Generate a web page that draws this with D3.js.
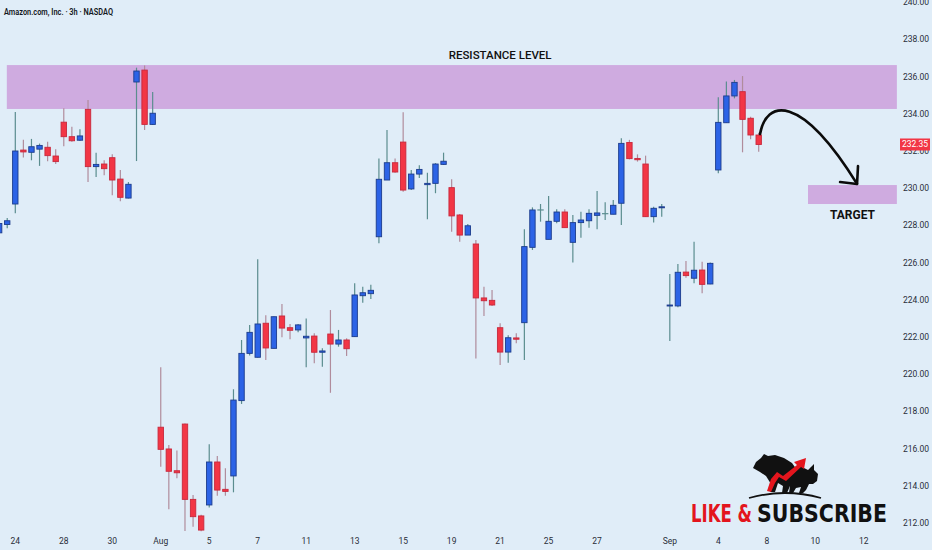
<!DOCTYPE html>
<html><head><meta charset="utf-8">
<script src="https://cdn.jsdelivr.net/npm/d3@7"></script>
<style>html,body{margin:0;padding:0;background:#e0edf8;}svg{display:block}</style>
</head><body><svg id="c" width="932" height="550"></svg>
<script>
// ---- data (3h bars, first bar index = -2) ----
const firstIndex = -2;
const opens  = [227.6,228.05,229.15,232.05,231.93,232.1,232.2,231.73,233.55,232.77,232.58,234.24,231.16,231.3,231.64,230.49,229.47,235.71,236.35,233.43,217.15,215.98,214.81,217.32,213.27,212.38,212.97,215.28,213.81,214.53,218.58,221.12,220.91,222.74,221.39,223.13,222.5,222.38,221.95,222.05,221.18,222.16,221.62,221.84,222.02,224.22,224.33,227.39,230.44,231.37,232.48,229.96,230.76,230.19,230.26,231.28,230.03,228.56,227.48,227.0,224.1,223.97,222.5,221.19,221.95,222.77,226.82,228.83,227.25,228.22,228.72,227.09,228.15,228.25,228.54,228.63,228.6,229.19,232.46,231.6,231.3,228.47,228.95,223.68,223.67,225.49,225.16,225.6,224.85,230.98,233.52,234.96,235.19,233.76,232.86];
const highs  = [228.2,228.4,234.1,232.6,232.65,232.4,232.5,232.1,234.3,233.3,233.17,234.74,231.9,231.5,231.82,230.98,230.33,236.48,236.6,235.17,220.37,216.2,215.9,217.35,213.5,212.45,216.23,215.6,214.94,219.19,221.84,222.65,226.18,223.17,223.1,223.77,222.7,222.7,223.0,222.2,221.39,223.45,222.38,221.93,224.89,224.7,224.81,231.6,233.13,231.6,234.08,230.98,231.23,230.83,231.35,231.91,230.48,228.61,228.07,227.21,224.7,224.53,222.74,222.1,222.2,227.79,228.97,229.15,229.58,228.87,228.87,228.56,228.74,228.87,229.85,229.24,229.37,232.68,232.6,231.82,231.75,229.0,229.15,225.39,225.92,226.09,227.12,226.05,226.0,234.89,235.73,235.82,236.03,233.84,232.98];
const lows   = [227.5,227.85,228.65,231.65,231.5,231.2,231.45,231.3,232.25,232.5,232.54,230.33,230.6,230.7,229.62,229.3,229.45,231.46,233.13,233.4,215.03,212.74,214.4,211.57,211.8,211.55,212.84,213.47,213.47,213.65,218.4,221.0,220.9,220.76,221.38,221.98,221.88,222.25,220.37,220.59,220.4,219.0,221.48,220.98,222.0,223.84,224.04,227.04,230.44,230.83,229.81,229.9,230.55,228.33,229.73,231.25,227.66,227.12,227.48,220.85,223.13,223.67,220.49,220.62,221.66,220.76,226.68,228.2,227.25,228.11,227.88,226.0,227.34,227.88,227.79,228.29,228.6,228.02,231.55,231.43,228.45,228.15,228.47,221.78,223.6,225.19,224.89,224.35,224.83,230.8,233.5,234.83,231.93,232.63,231.96];
const closes = [228.1,228.25,232.0,231.95,232.23,232.3,231.75,231.43,232.77,232.55,232.81,231.16,231.28,231.05,230.44,229.51,230.21,236.3,233.43,234.03,215.96,214.78,214.7,213.27,212.34,211.62,215.28,213.77,213.7,218.61,221.12,222.25,222.7,221.41,223.09,222.48,222.36,222.65,222.04,221.18,221.25,221.62,221.84,221.37,224.26,224.38,224.51,230.48,231.37,230.87,229.9,230.76,231.01,230.26,231.3,231.45,228.51,227.48,227.98,224.1,223.95,223.72,221.19,221.96,221.88,226.86,228.83,228.83,228.22,228.72,227.88,228.15,228.29,228.65,228.67,228.63,229.08,232.41,231.59,231.53,228.47,228.92,229.0,223.72,225.48,225.3,225.59,224.83,225.96,233.54,234.96,235.69,233.7,232.86,232.35];

const xTickIdx    = [0,6,12,18,24,30,36,42,48,54,60,66,72,81,87,93,99,105];
const xTickLabels = ["24","28","30","Aug","5","7","11","13","15","19","21","25","27","Sep","4","8","10","12"];
const yTicks = [212,214,216,218,220,222,224,226,228,230,232,234,236,238,240];

const titleText = "Amazon.com, Inc. · 3h · NASDAQ";
const lastPrice = 232.35;
const resistanceZone = {i0:-1.05, i1:109.1, p0:234.26, p1:236.62, label:"RESISTANCE LEVEL"};
const targetZone     = {i0:98.1,  i1:109.1, p0:229.15, p1:230.17, label:"TARGET"};
const arrowCurve = [[92.17,232.91],[92.91,234.74],[97.12,235.17],[104.17,230.23]];
const arrowHead  = [[102.07,230.33],[104.17,230.23],[104.29,231.19]];
const logoWords = ["LIKE &","SUBSCRIBE"];

// ---- scales ----
const x = d3.scaleLinear().domain([0,92]).range([15.3,758.7]);
const y = d3.scaleLinear().domain([212,240]).range([523,2.2]);

const svg = d3.select("#c");
const FONT = "Roboto, 'Liberation Sans', sans-serif";
svg.append("rect").attr("width",932).attr("height",550).attr("fill","#e0edf8");

// zones
const zones = [resistanceZone, targetZone];
svg.selectAll("rect.zone").data(zones).join("rect").attr("class","zone")
  .attr("x",d=>x(d.i0)).attr("width",d=>x(d.i1)-x(d.i0))
  .attr("y",d=>y(d.p1)).attr("height",d=>y(d.p0)-y(d.p1))
  .attr("fill","#cfabe0");

// candles
const bars = opens.map((o,k)=>({i:k+firstIndex,o,h:highs[k],l:lows[k],c:closes[k]}));
const g = svg.append("g");
const up = d=>d.c>=d.o;
const doji = d=>Math.abs(d.c-d.o)<0.005;
g.selectAll("line.wick").data(bars).join("line")
  .attr("x1",d=>x(d.i)).attr("x2",d=>x(d.i))
  .attr("y1",d=>y(d.h)).attr("y2",d=>y(d.l))
  .attr("stroke",d=>up(d)?"#5b8d8f":"#b08c9c").attr("stroke-width",1.2);
const bw = 5.4;
g.selectAll("rect.body").data(bars.filter(d=>!doji(d))).join("rect")
  .attr("x",d=>x(d.i)-bw/2).attr("width",bw)
  .attr("y",d=>y(Math.max(d.o,d.c)))
  .attr("height",d=>Math.max(1,Math.abs(y(d.o)-y(d.c))))
  .attr("fill",d=>up(d)?"#2c63e6":"#f23645")
  .attr("stroke",d=>up(d)?"#1c3c8c":"#c8283c").attr("stroke-width",0.9);
g.selectAll("line.doji").data(bars.filter(doji)).join("line")
  .attr("x1",d=>x(d.i)-bw/2-0.5).attr("x2",d=>x(d.i)+bw/2+0.5)
  .attr("y1",d=>y(d.o)).attr("y2",d=>y(d.o))
  .attr("stroke","#5b8d8f").attr("stroke-width",1.2);

// annotations
svg.append("text").attr("x",x(60)).attr("y",y(resistanceZone.p1)-6)
  .attr("text-anchor","middle").attr("font-family",FONT).attr("font-size",11.5)
  .attr("font-weight",500).attr("fill","#111").text(resistanceZone.label);
svg.append("text").attr("x",(x(targetZone.i0)+x(targetZone.i1))/2).attr("y",y(targetZone.p0)+15)
  .attr("text-anchor","middle").attr("font-family",FONT).attr("font-size",12)
  .attr("font-weight",700).attr("fill","#111").text(targetZone.label);

const c = arrowCurve.map(p=>[x(p[0]),y(p[1])]);
svg.append("path").attr("d",`M${c[0]}C${c[1]} ${c[2]} ${c[3]}`)
  .attr("fill","none").attr("stroke","#0b0b0b").attr("stroke-width",2.6).attr("stroke-linecap","round");
svg.append("path").attr("d",d3.line()(arrowHead.map(p=>[x(p[0]),y(p[1])])))
  .attr("fill","none").attr("stroke","#0b0b0b").attr("stroke-width",2.6)
  .attr("stroke-linecap","round").attr("stroke-linejoin","round");

// LIKE & SUBSCRIBE logo
const logo = svg.append("g");
logo.append("path").attr("fill","#111")
  .attr("d","M753,468 L756,462 L761,458 L764,454 L768,456 L775,455 L784,458 L792,463 L797,470 L795,480 L790,486 L787,493 L782,493 L783,486 L778,483 L775,492 L770,492 L771,484 L766,476 L760,472 Z");
logo.append("path").attr("fill","#111")
  .attr("d","M789,469 L800,466 L808,470 L811,467 L814,464 L814,470 L818,474 L817,481 L813,484 L809,484 L806,490 L803,493 L799,493 L801,487 L796,488 L793,493 L789,493 L790,486 Z");
logo.append("path").attr("fill","#e3151d")
  .attr("d","M767,491 L771,479 L777,472 L783,476 L797,465 L794,462 L806,458 L804,469 L801,467 L786,481 L779,477 L775,483 L771,492 Z");
logo.append("path").attr("fill","none").attr("stroke","#111").attr("stroke-width",1.8)
  .attr("d","M749,498 Q785,488 821,498");
function fitWord(word, x0, width, fill){
  const gg = logo.append("g");
  const t = gg.append("text").attr("x",0).attr("y",0)
    .attr("font-family","'DejaVu Sans', sans-serif").attr("font-size",25).attr("font-weight",900)
    .attr("fill",fill).text(word);
  const w = t.node().getComputedTextLength();
  gg.attr("transform",`translate(${x0},522) scale(${width/w},1)`);
}
fitWord(logoWords[0], 691, 61, "#e3151d");
fitWord(logoWords[1], 757, 130, "#111");

// y axis labels (right)
svg.append("g").selectAll("text").data(yTicks).join("text")
  .attr("x",903).attr("y",d=>y(d)).attr("dy","0.35em")
  .attr("font-family",FONT).attr("font-size",8.5).attr("fill","#2a2e39")
  .text(d=>d3.format(".2f")(d));
// last price label
svg.append("rect").attr("x",900).attr("y",y(lastPrice)-6).attr("width",30).attr("height",12).attr("fill","#f23645");
svg.append("text").attr("x",915).attr("y",y(lastPrice)).attr("dy","0.35em").attr("text-anchor","middle")
  .attr("font-family",FONT).attr("font-size",8.5).attr("fill","#fff").text(d3.format(".2f")(lastPrice));

// x axis labels
svg.append("g").selectAll("text").data(xTickIdx).join("text")
  .attr("x",d=>x(d)).attr("y",541).attr("dy","0.35em").attr("text-anchor","middle")
  .attr("font-family",FONT).attr("font-size",8.5).attr("fill","#2a2e39")
  .text((d,k)=>xTickLabels[k]);

// title
svg.append("text").attr("x",4).attr("y",12).attr("dy","0.35em")
  .attr("font-family",FONT).attr("font-size",9).attr("font-weight",600).attr("fill","#131722")
  .attr("textLength",109).attr("lengthAdjust","spacingAndGlyphs").text(titleText);
</script></body></html>
